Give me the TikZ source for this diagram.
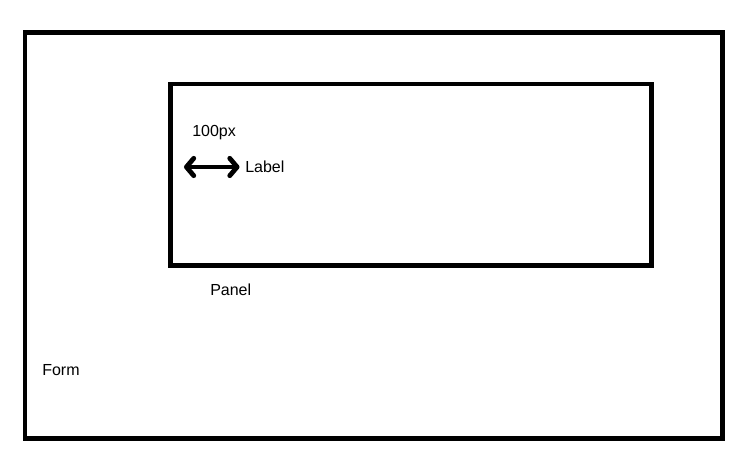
\documentclass[tikz,border=0pt]{standalone}
\usepackage{fontspec}
\setmainfont{Liberation Sans}
\usetikzlibrary{arrows.meta}
\tikzset{
  frame/.style={draw=black, line width=3.5pt, inner sep=0pt, fill=none},
  lbl/.style={inner sep=0pt, anchor=base west, font=\fontsize{12pt}{14pt}\selectfont},
  dimarrow/.style={line width=3.6pt, {Straight Barb[round, length=5.5pt, width=13pt]}-{Straight Barb[round, length=5.5pt, width=13pt]}}
}
\begin{document}
\begin{tikzpicture}[x=0.75pt, y=-0.75pt]
\useasboundingbox[fill=white] (0,0) rectangle (750,463);
\node[frame, minimum width=523.1pt, minimum height=304.5pt] (form) at (373.75,235.5) {};
\node[frame, minimum width=360.75pt, minimum height=136.1pt] (panel) at (411,174.75) {};
\node[lbl] (t100) at (192,136.5) {100px};
\node[lbl] (label) at (245,172.5) {Label};
\node[lbl] (paneltxt) at (210,296) {Panel};
\node[lbl] (formtxt) at (42,376) {Form};
\coordinate (a1) at (184,167);
\coordinate (a2) at (239.5,167);
\draw[dimarrow] (a1) -- (a2);
\end{tikzpicture}
\end{document}
